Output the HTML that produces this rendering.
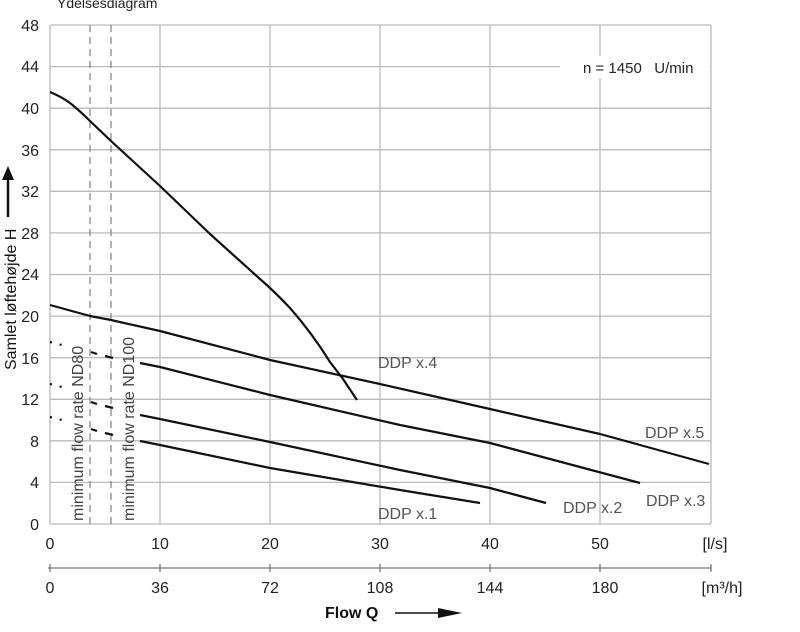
<!DOCTYPE html>
<html><head><meta charset="utf-8"><style>
body{margin:0;background:#fff}
svg{display:block;font-family:"Liberation Sans",sans-serif}
</style></head><body>
<svg width="800" height="632" viewBox="0 0 800 632">
<rect width="800" height="632" fill="#fff"/>
<g stroke="#bbb" stroke-width="1.3" fill="none">
<path d="M50,25H711M50,66.6H711M50,108.2H711M50,149.8H711M50,191.3H711M50,232.9H711M50,274.5H711M50,316.1H711M50,357.7H711M50,399.3H711M50,440.8H711M50,482.4H711M50,524H711"/>
<path d="M50,25V524M160,25V524M270,25V524M380,25V524M490,25V524M600,25V524M711,25V524"/>
</g>
<g stroke="#888" stroke-width="1.3" stroke-dasharray="7,5">
<path d="M90,25V524M111,25V524"/>
</g>
<rect x="560" y="56" width="150" height="22" fill="#fff"/>
<text x="583" y="73" font-size="15" fill="#222">n = 1450&#160;&#160;&#160;U/min</text>
<g fill="none" stroke="#111" stroke-width="2.2" stroke-linejoin="round">
<path d="M50,92 Q62,97 70,103 Q80,111 90,121 L111,141 L160,186 L210,234 L260,279 Q275,292 290,308 Q312,333 330,362 L343,379 L357,400"/>
<path d="M50,305 L90,316 L111,320 L160,331 L270,360 L380,384 L490,409 L600,434 L640,445 L709,464"/>
<path d="M140,363 L160,367 L270,395 L400,425 L490,443 L640,483"/>
<path d="M140,415 L160,419 L270,442 L400,470 L490,488 L546,503"/>
<path d="M140,441 L160,445 L270,468 L400,490 L480,503"/>
</g>
<g fill="none" stroke="#111" stroke-width="2.2" stroke-dasharray="2,8">
<path d="M50,342 L66,346M50,384 L66,388M50,417 L66,421"/>
</g>
<g fill="none" stroke="#111" stroke-width="2.2">
<path d="M91,352 L97,354M105,356 L113,358M91,402 L97,404M105,406 L113,408M91,429 L97,431M105,433 L113,435"/>
</g>
<g font-size="16" fill="#555">
<text x="378" y="368">DDP x.4</text>
<text x="645" y="438">DDP x.5</text>
<text x="646" y="506">DDP x.3</text>
<text x="563" y="513">DDP x.2</text>
<text x="378" y="519">DDP x.1</text>
</g>
<g font-size="16" fill="#444">
<text transform="translate(83,521) rotate(-90)">minimum flow rate ND80</text>
<text transform="translate(134,521) rotate(-90)">minimum flow rate ND100</text>
</g>
<g font-size="16" fill="#222" text-anchor="end">
<text x="39" y="31">48</text><text x="39" y="72">44</text><text x="39" y="114">40</text><text x="39" y="156">36</text><text x="39" y="197">32</text><text x="39" y="239">28</text><text x="39" y="280">24</text><text x="39" y="322">20</text><text x="39" y="364">16</text><text x="39" y="405">12</text><text x="39" y="447">8</text><text x="39" y="488">4</text><text x="39" y="530">0</text>
</g>
<g font-size="16" fill="#222" text-anchor="middle">
<text x="50" y="549">0</text><text x="160" y="549">10</text><text x="270" y="549">20</text><text x="380" y="549">30</text><text x="490" y="549">40</text><text x="600" y="549">50</text><text x="715" y="549">[l/s]</text>
<text x="50" y="593">0</text><text x="160" y="593">36</text><text x="270" y="593">72</text><text x="380" y="593">108</text><text x="490" y="593">144</text><text x="605" y="593">180</text><text x="722" y="593">[m³/h]</text>
</g>
<g stroke="#777" stroke-width="1.3">
<path d="M48,568H711M50,564V572M160,564V572M270,564V572M380,564V572M490,564V572M600,564V572M711,564V572"/>
</g>
<text x="325" y="618" font-size="16" font-weight="bold" fill="#111">Flow Q</text>
<path d="M395,613H440" stroke="#111" stroke-width="1.5"/>
<path d="M438,608L462,613L438,618Z" fill="#111"/>
<text transform="translate(16,370) rotate(-90)" font-size="16" fill="#111">Samlet løftehøjde H</text>
<path d="M8,217V178" stroke="#111" stroke-width="2.5"/>
<path d="M2,180L8,166L14,180Z" fill="#111"/>
<text x="57" y="8" font-size="14" fill="#222">Ydelsesdiagram</text>
</svg>
</body></html>
